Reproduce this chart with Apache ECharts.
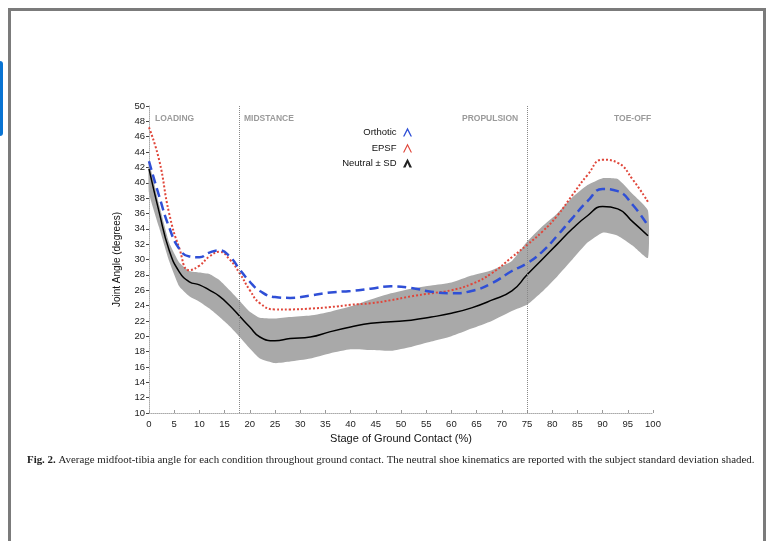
<!DOCTYPE html>
<html>
<head>
<meta charset="utf-8">
<script src="https://cdn.jsdelivr.net/npm/echarts@6/dist/echarts.min.js"></script>
<style>
  html, body { margin: 0; padding: 0; background: #fff; }
  #chart { width: 771px; height: 541px; }
</style>
</head>
<body>
<div id="chart"></div>
<script>
// stage of ground contact (%) where each curve was read
const stage = [0, 2, 4, 6, 8, 10, 12, 14, 16, 18, 20, 22, 25, 28, 32, 36, 40, 44, 48, 52, 56, 60, 64, 68, 72, 75, 78, 81, 84, 87, 90, 93, 96, 99]

const neutral = [41.8, 36.2, 31.2, 28.4, 27.1, 26.7, 26.0, 25.2, 24.0, 22.6, 21.2, 19.9, 19.4, 19.7, 19.9, 20.6, 21.2, 21.7, 21.9, 22.1, 22.5, 23.0, 23.7, 24.7, 25.9, 28.0, 30.0, 32.0, 34.0, 35.7, 36.9, 36.6, 34.9, 33.1]
const sdUpper = [42.6, 37.2, 32.2, 29.6, 28.5, 28.3, 28.1, 27.3, 26.0, 24.6, 23.2, 22.4, 22.3, 22.5, 22.7, 23.2, 23.9, 24.8, 25.6, 26.2, 26.6, 27.0, 27.9, 28.6, 29.8, 32.3, 34.3, 36.0, 38.1, 39.7, 40.6, 40.5, 38.5, 36.4]
const sdLower = [38.7, 34.2, 29.8, 26.5, 25.2, 24.5, 23.6, 22.5, 21.3, 19.9, 18.4, 17.1, 16.5, 16.7, 17.1, 17.8, 18.3, 18.2, 18.1, 18.6, 19.3, 20.0, 21.0, 22.0, 23.3, 24.1, 25.8, 27.8, 30.0, 32.2, 33.5, 33.1, 31.8, 30.2]
const orthotic = [42.8, 38.3, 34.2, 31.4, 30.4, 30.3, 30.9, 31.2, 30.4, 28.7, 27.1, 25.9, 25.1, 25.0, 25.3, 25.7, 25.9, 26.2, 26.5, 26.3, 25.8, 25.6, 25.9, 26.9, 28.5, 29.5, 31.0, 33.1, 35.4, 37.6, 39.2, 38.9, 37.1, 34.4]
const epsf = [47.2, 43.0, 36.0, 31.5, 28.6, 29.2, 30.4, 31.0, 30.0, 28.2, 26.0, 24.3, 23.5, 23.5, 23.6, 23.8, 24.1, 24.3, 24.7, 25.2, 25.6, 26.0, 26.8, 28.2, 30.3, 31.9, 33.6, 35.7, 38.4, 41.0, 43.0, 42.6, 40.4, 37.5]

const phaseBounds = [18, 75]
const phaseLabels = ['LOADING', 'MIDSTANCE', 'PROPULSION', 'TOE-OFF']

const pairs = (ys) => stage.map((x, i) => [x, ys[i]])
const bandData = stage.map((x, i) => [x, sdLower[i], sdUpper[i]])

const chart = echarts.init(document.getElementById('chart'), null, { renderer: 'canvas' })

const axisFont = { fontFamily: 'Liberation Sans, Arial', fontSize: 9.5, color: '#222' }

const legendItem = (name, icon, top) => ({
  data: [{ name, icon }],
  right: 354,
  top,
  align: 'right',
  itemWidth: 12,
  itemHeight: 9,
  textStyle: { fontFamily: 'Liberation Sans, Arial', fontSize: 9.5, color: '#111' }
})

const phaseText = (text, left) => ({
  type: 'text',
  left,
  top: 114,
  z: 100,
  style: { text, fill: '#9a9a9a', font: 'bold 8.5px "Liberation Sans", Arial' }
})

// shaded SD band: polygon through upper points then lower points back
function renderBand(params, api) {
  if (params.dataIndex !== 0) return
  const top = bandData.map((d) => api.coord([d[0], d[2]]))
  const bottom = bandData.map((d) => api.coord([d[0], d[1]])).reverse()
  return {
    type: 'polygon',
    shape: { points: top.concat(bottom), smooth: 0.15 },
    style: { fill: '#a9a9a9', stroke: null }
  }
}

const option = {
  animation: false,
  grid: { left: 149, right: 118, top: 106, bottom: 128 },
  legend: [
    legendItem('Orthotic', 'path://M0,10 L5,0 L10,10 L8.4,10 L5,3.2 L1.6,10 Z', 122),
    legendItem('EPSF', 'path://M0,10 L5,0 L10,10 L8.6,10 L5,2.8 L1.4,10 Z', 138),
    legendItem('Neutral \u00b1 SD', 'path://M0,10 L5,0 L10,10 L7.2,10 L5,5 L2.8,10 Z', 153)
  ],
  xAxis: {
    type: 'value',
    min: 0,
    max: 100,
    interval: 5,
    name: 'Stage of Ground Contact (%)',
    nameLocation: 'middle',
    nameGap: 18,
    nameTextStyle: { fontFamily: 'Liberation Sans, Arial', fontSize: 11, color: '#111' },
    axisLine: { lineStyle: { color: '#aaa', type: 'dotted', width: 1 } },
    axisTick: { inside: true, length: 3, lineStyle: { color: '#999' } },
    axisLabel: Object.assign({ margin: 6 }, axisFont),
    splitLine: { show: false }
  },
  yAxis: {
    type: 'value',
    min: 10,
    max: 50,
    interval: 2,
    name: 'Joint Angle (degrees)',
    nameLocation: 'middle',
    nameGap: 27,
    nameTextStyle: { fontFamily: 'Liberation Sans, Arial', fontSize: 10, color: '#111' },
    axisLine: { show: true, lineStyle: { color: '#aaa', type: 'dotted', width: 1 } },
    axisTick: { show: true, length: 3, lineStyle: { color: '#444' } },
    axisLabel: Object.assign({ margin: 4 }, axisFont),
    splitLine: { show: false }
  },
  graphic: [
    { type: 'rect', z: -10, shape: { x: 9.5, y: 9.5, width: 755, height: 620 }, style: { fill: null, stroke: '#7b7b7b', lineWidth: 3 } },
    { type: 'rect', z: -10, shape: { x: -5, y: 61, width: 8, height: 75, r: 3 }, style: { fill: '#0a74d3' } },
    phaseText(phaseLabels[0], 155),
    phaseText(phaseLabels[1], 244),
    phaseText(phaseLabels[2], 462),
    phaseText(phaseLabels[3], 614),
    {
      type: 'text',
      left: 27,
      top: 455,
      style: {
        text: '{b|Fig. 2.} Average midfoot-tibia angle for each condition throughout ground contact. The neutral shoe kinematics are reported with the subject standard deviation shaded.',
        font: '10.9px "Liberation Serif", serif',
        fill: '#222',
        rich: { b: { font: 'bold 10.9px "Liberation Serif", serif', fill: '#222' } }
      }
    }
  ],
  series: [
    {
      name: 'sdBand',
      type: 'custom',
      renderItem: renderBand,
      data: bandData,
      encode: { x: 0, y: [1, 2] },
      silent: true,
      z: 1
    },
    {
      name: 'phases',
      type: 'line',
      data: [],
      markLine: {
        silent: true,
        symbol: 'none',
        label: { show: false },
        lineStyle: { color: '#888', type: 'dotted', width: 1 },
        data: phaseBounds.map((x) => ({ xAxis: x }))
      }
    },
    {
      name: 'Neutral \u00b1 SD',
      type: 'line',
      smooth: true,
      symbol: 'none',
      itemStyle: { color: '#222' },
      lineStyle: { color: '#000', width: 1.5 },
      data: pairs(neutral)
    },
    {
      name: 'EPSF',
      type: 'line',
      smooth: true,
      symbol: 'none',
      itemStyle: { color: '#e0463a' },
      lineStyle: { color: '#e0463a', width: 2, type: [2, 2] },
      data: pairs(epsf)
    },
    {
      name: 'Orthotic',
      type: 'line',
      smooth: true,
      symbol: 'none',
      itemStyle: { color: '#2f4fd6' },
      lineStyle: { color: '#2f4fd6', width: 2.5, type: [9, 5] },
      data: pairs(orthotic)
    }
  ]
}

chart.setOption(option)
</script>
</body>
</html>
